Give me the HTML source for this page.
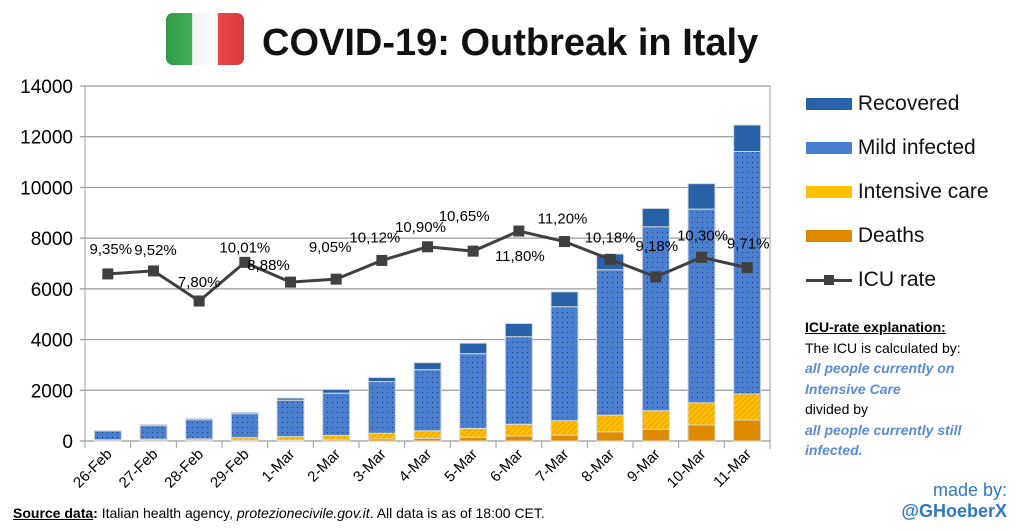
<!DOCTYPE html>
<html><head><meta charset="utf-8"><style>
body{margin:0;width:1023px;height:531px;background:#fff;overflow:hidden;font-family:"Liberation Sans",sans-serif;position:relative}
.abs{position:absolute}
</style></head><body>
<svg width="1023" height="531" style="position:absolute;left:0;top:0">
<defs>
<pattern id="dots" width="5" height="5" patternUnits="userSpaceOnUse"><rect width="5" height="5" fill="#4a7fcf"/><rect x="2" y="2" width="1" height="1" fill="#1d3a6a"/></pattern>
<pattern id="hatch" width="4" height="4" patternUnits="userSpaceOnUse" patternTransform="rotate(45)"><rect width="4" height="4" fill="#ffc000"/><rect width="1.5" height="4" fill="#f0a800"/></pattern>
<linearGradient id="flag" x1="0" x2="1"><stop offset="0" stop-color="#2e9a48"/><stop offset="0.33" stop-color="#3fb05a"/><stop offset="0.34" stop-color="#f4f4f4"/><stop offset="0.66" stop-color="#ffffff"/><stop offset="0.67" stop-color="#e8464a"/><stop offset="1" stop-color="#d83a3e"/></linearGradient>
</defs>
<rect x="166" y="13" width="78" height="52" rx="7" fill="url(#flag)"/>
<text x="262" y="55" font-size="38" font-weight="bold" fill="#111">COVID-19: Outbreak in Italy</text>
<g id="plot"></g>
</svg>
<div class="abs" style="left:806px;top:92px;font-size:21px;color:#111">
 <div style="position:absolute;top:0;width:210px"><span style="display:inline-block;width:46px;height:12px;background:#2761a8;vertical-align:middle"></span> Recovered</div>
 <div style="position:absolute;top:44px;width:210px"><span style="display:inline-block;width:46px;height:12px;background:#4a7fcf;vertical-align:middle"></span> Mild infected</div>
 <div style="position:absolute;top:88px;width:210px"><span style="display:inline-block;width:46px;height:12px;background:#ffc000;vertical-align:middle"></span> Intensive care</div>
 <div style="position:absolute;top:132px;width:210px"><span style="display:inline-block;width:46px;height:12px;background:#e08a00;vertical-align:middle"></span> Deaths</div>
 <div style="position:absolute;top:176px;width:210px"><span style="display:inline-block;width:46px;height:3px;background:#404040;vertical-align:middle;position:relative"><span style="position:absolute;left:18px;top:-4px;width:10px;height:10px;background:#404040"></span></span> ICU rate</div>
</div>
<div class="abs" style="left:805px;top:317px;font-size:14px;line-height:20.5px;color:#000">
<div style="font-weight:bold;text-decoration:underline">ICU-rate explanation:</div>
<div>The ICU is calculated by:</div>
<div style="color:#5b8bd6;font-weight:bold;font-style:italic">all people currently on<br>Intensive Care</div>
<div>divided by</div>
<div style="color:#5b8bd6;font-weight:bold;font-style:italic">all people currently still<br>infected.</div>
</div>
<div class="abs" style="right:16px;top:480px;font-size:18px;color:#2f78c4;text-align:right;line-height:21px">made by:<br><b>@GHoeberX</b></div>
<div class="abs" style="left:13px;top:505px;font-size:14px;color:#000"><b><u>Source data</u>:</b> Italian health agency, <i>protezionecivile.gov.it</i>. All data is as of 18:00 CET.</div>
<script>
const categories=["26-Feb","27-Feb","28-Feb","29-Feb","1-Mar","2-Mar","3-Mar","4-Mar","5-Mar","6-Mar","7-Mar","8-Mar","9-Mar","10-Mar","11-Mar"];
const deaths=[12,17,21,29,34,52,79,107,148,197,233,366,463,631,827];
const intensive=[36,56,64,105,140,166,229,295,351,462,567,650,733,877,1028];
const mild=[349,532,757,944,1437,1669,2034,2411,2945,3454,4494,5737,7252,7637,9562];
const recovered=[3,45,46,50,83,149,160,276,414,523,589,622,724,1004,1045];
const icuRate=[9.35,9.52,7.80,10.01,8.88,9.05,10.12,10.90,10.65,11.80,11.20,10.18,9.18,10.30,9.71];
const rateLabels=["9,35%","9,52%","7,80%","10,01%","8,88%","9,05%","10,12%","10,90%","10,65%","11,80%","11,20%","10,18%","9,18%","10,30%","9,71%"];
const yTicks=[0,2000,4000,6000,8000,10000,12000,14000];
const labelOff=[[3,-26],[2,-22],[0,-20],[0,-16],[-22,-18],[-6,-33],[-7,-24],[-7,-21],[-9,-36],[1,24],[-2,-24],[0,-23],[1,-32],[1,-23],[1,-25]];
const ns="http://www.w3.org/2000/svg";
const g=document.getElementById('plot');
const X0=85,X1=770,Y0=441,Y1=86,N=categories.length,bw=(X1-X0)/N;
const y=v=>Y0-(v/14000)*(Y0-Y1);
const yr=r=>y(690*r+138);
function mk(t,a,txt){const e=document.createElementNS(ns,t);for(const k in a)e.setAttribute(k,a[k]);if(txt!=null)e.textContent=txt;g.appendChild(e);return e;}
mk('rect',{x:X0,y:Y1,width:X1-X0,height:Y0-Y1,fill:'none',stroke:'#a0a0a0'});
yTicks.forEach(t=>{const l=mk('line',{x1:X0-5,x2:X1,y1:y(t),y2:y(t),stroke:'#9a9a9a','stroke-width':1.2});

const tx=mk('text',{x:X0-12,y:y(t)+7,'text-anchor':'end','font-size':19,fill:'#000'},t);
});
mk('line',{x1:X1,x2:X1,y1:Y1,y2:Y0+8,stroke:'#9a9a9a'});
categories.forEach((c,i)=>{const cx=X0+bw*(i+0.5);
mk('line',{x1:X0+bw*i,x2:X0+bw*i,y1:Y0,y2:Y0+7,stroke:'#9a9a9a'});
const tx=mk('text',{x:0,y:0,'text-anchor':'end','font-size':15,fill:'#000',transform:`translate(${cx+5},${Y0+14}) rotate(-45)`},c);

let base=0;
[[deaths,'#e08a00','bar-deaths'],[intensive,'url(#hatch)','bar-intensive'],[mild,'url(#dots)','bar-mild'],[recovered,'#2761a8','bar-recovered']].forEach(([arr,f,n])=>{
const v=arr[i];const r=mk('rect',{x:cx-13.5,y:y(base+v),width:27,height:y(base)-y(base+v),fill:f,stroke:'#d8d8d8','stroke-width':1});
base+=v;});});
const pts=icuRate.map((r,i)=>[X0+bw*(i+0.5),yr(r)]);
const pl=mk('polyline',{points:pts.map(p=>p.join(',')).join(' '),fill:'none',stroke:'#404040','stroke-width':3});

pts.forEach((p,i)=>{const m=mk('rect',{x:p[0]-5.5,y:p[1]-5.5,width:11,height:11,fill:'#404040'});

const t=mk('text',{x:p[0]+labelOff[i][0],y:p[1]+labelOff[i][1]+6,'text-anchor':'middle','font-size':15,fill:'#000'},rateLabels[i]);
});
</script>
</body></html>
